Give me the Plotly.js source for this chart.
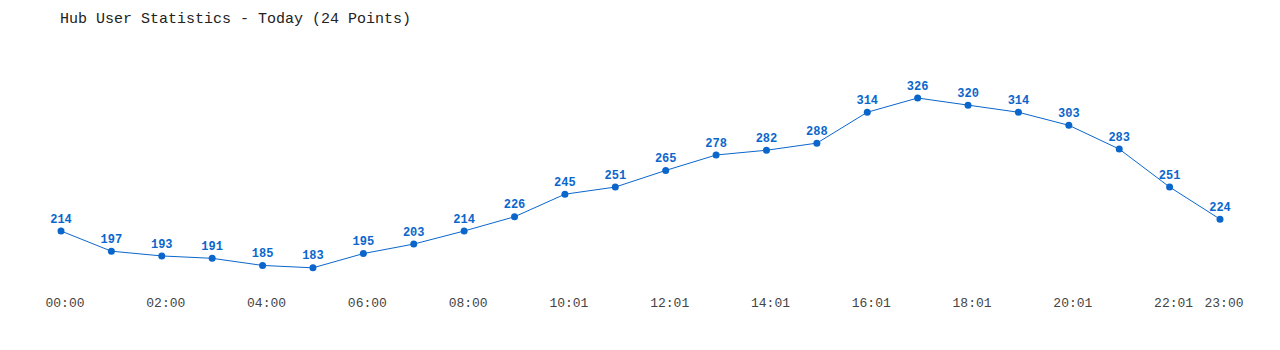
<!DOCTYPE html>
<html>
<head>
<meta charset="utf-8">
<script src="https://cdn.plot.ly/plotly-3.0.1.min.js"></script>
<style>html,body{margin:0;padding:0;background:#fff;}#chart{width:1280px;height:350px;}</style>
</head>
<body>
<div id="chart"></div>
<script>
const pointIndex = [0,1,2,3,4,5,6,7,8,9,10,11,12,13,14,15,16,17,18,19,20,21,22,23];
const users = [214,197,193,191,185,183,195,203,214,226,245,251,265,278,282,288,314,326,320,314,303,283,251,224];
const tickIndex = [0,2,4,6,8,10,12,14,16,18,20,22,23];
const tickLabels = ["00:00","02:00","04:00","06:00","08:00","10:01","12:01","14:01","16:01","18:01","20:01","22:01","23:00"];
const titleText = "Hub User Statistics - Today (24 Points)";

const mono = "Liberation Mono, DejaVu Sans Mono, monospace";
const blue = "#0b66cc";

Plotly.newPlot("chart", [{
  x: pointIndex,
  y: users,
  type: "scatter",
  mode: "lines+markers+text",
  text: users.map(String),
  textposition: "top center",
  textfont: {family: mono, size: 12, color: blue, weight: "bold"},
  line: {color: blue, width: 1},
  marker: {color: blue, size: 7},
  hoverinfo: "x+y",
  cliponaxis: false
}], {
  width: 1280, height: 350,
  paper_bgcolor: "#fff", plot_bgcolor: "#fff",
  margin: {l: 61, r: 60, t: 50, b: 60},
  showlegend: false,
  title: {text: titleText, font: {family: mono, size: 15, color: "#222"},
          xref: "container", x: 60/1280, xanchor: "left",
          yref: "container", y: 1 - 18/350, yanchor: "middle"},
  xaxis: {range: [0, 23], tickvals: tickIndex, ticktext: tickLabels,
          showgrid: false, zeroline: false, showline: false, ticks: "",
          ticklabelshift: 4, ticklabelstandoff: 3,
          tickfont: {family: mono, size: 13, color: "#444"}, fixedrange: true},
  yaxis: {range: [164.32, 366.42], visible: false, showgrid: false, zeroline: false, fixedrange: true}
}, {displayModeBar: false, staticPlot: true});
</script>
</body>
</html>
